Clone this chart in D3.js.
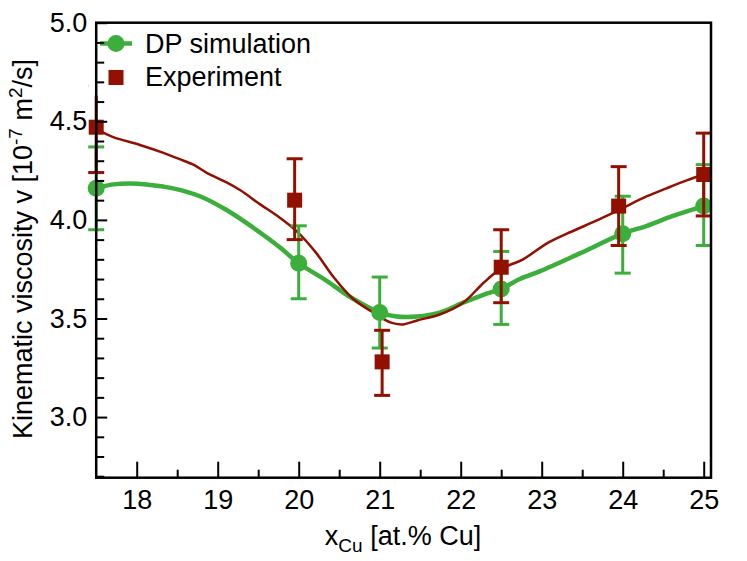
<!DOCTYPE html>
<html>
<head>
<meta charset="utf-8">
<script src="https://cdn.jsdelivr.net/npm/d3@7"></script>
<style>
  body { margin: 0; background: #fff; }
  text { font-family: "Liberation Sans", Arial, sans-serif; fill: #000; }
</style>
</head>
<body>
<div id="chart"></div>
<script>
// DP simulation points (green circles)
const dpX = [17.5, 20, 21, 22.5, 24, 25]
const dpY = [4.16, 3.78, 3.53, 3.65, 3.93, 4.07]
const dpHigh = [4.37, 3.97, 3.71, 3.84, 4.12, 4.28]
const dpLow = [3.95, 3.60, 3.35, 3.47, 3.73, 3.87]

// Experiment points (red squares)
const expX = [17.5, 19.95, 21.03, 22.5, 23.95, 25]
const expY = [4.47, 4.10, 3.28, 3.76, 4.07, 4.23]
const expHigh = [4.68, 4.31, 3.44, 3.95, 4.27, 4.44]
const expLow = [4.24, 3.90, 3.11, 3.58, 3.87, 4.02]

// smooth guide curves
const dpCurveX = [17.5, 17.71, 17.92, 18.12, 18.45, 18.78, 19.11, 19.44, 19.77, 20.0, 20.35, 20.63, 21.0, 21.21, 21.46, 21.74, 22.03, 22.28, 22.5, 22.73, 22.98, 23.47, 24.0, 24.3, 24.62, 25.0]
const dpCurveY = [4.16, 4.18, 4.185, 4.18, 4.16, 4.12, 4.05, 3.96, 3.86, 3.78, 3.69, 3.61, 3.53, 3.51, 3.51, 3.53, 3.58, 3.62, 3.65, 3.70, 3.74, 3.83, 3.93, 3.97, 4.02, 4.07]
const expCurveX = [17.5, 17.71, 18.04, 18.33, 18.58, 18.70, 18.86, 19.11, 19.28, 19.52, 19.77, 19.98, 20.22, 20.43, 20.67, 20.96, 21.13, 21.29, 21.46, 21.74, 22.03, 22.28, 22.49, 22.77, 23.06, 23.31, 23.64, 23.95, 24.30, 24.54, 24.79, 25.0]
const expCurveY = [4.46, 4.42, 4.38, 4.34, 4.30, 4.28, 4.24, 4.19, 4.15, 4.08, 4.01, 3.94, 3.83, 3.71, 3.60, 3.52, 3.48, 3.47, 3.49, 3.52, 3.58, 3.68, 3.75, 3.80, 3.88, 3.93, 3.99, 4.05, 4.12, 4.16, 4.20, 4.23]

const xMajor = [18, 19, 20, 21, 22, 23, 24, 25]
const xMinor = [18.5, 19.5, 20.5, 21.5, 22.5, 23.5, 24.5]
const yMajor = [3.0, 3.5, 4.0, 4.5, 5.0]
const yMinor = [2.7, 2.8, 2.9, 3.1, 3.2, 3.3, 3.4, 3.6, 3.7, 3.8, 3.9, 4.1, 4.2, 4.3, 4.4, 4.6, 4.7, 4.8, 4.9]

const width = 747, height = 561
const pLeft = 96.2, pRight = 711, pTop = 22.7, pBottom = 477.7
const green = '#3cae3c', red = '#921000'
const fs = '27px'

const svg = d3.select('#chart')
  .append('svg')
  .attr('width', width)
  .attr('height', height)

const x = d3.scaleLinear().domain([17.5, 25.09]).range([pLeft, pRight])
const y = d3.scaleLinear().domain([2.69, 5.0]).range([pBottom + 0.5, pTop])

const zip = (a, b) => a.map((v, i) => [v, b[i]])

const line = d3.line()
  .x(d => x(d[0]))
  .y(d => y(d[1]))
  .curve(d3.curveCatmullRom)

// DP curve
svg.append('path')
  .datum(zip(dpCurveX, dpCurveY))
  .attr('d', line)
  .attr('fill', 'none')
  .attr('stroke', green)
  .attr('stroke-width', 4.5)

// experiment curve
svg.append('path')
  .datum(zip(expCurveX, expCurveY))
  .attr('d', line)
  .attr('fill', 'none')
  .attr('stroke', red)
  .attr('stroke-width', 2.5)

function errorBars(xs, lo, hi, color) {
  const g = svg.append('g').attr('stroke', color).attr('stroke-width', 3)
  xs.forEach((xv, i) => {
    g.append('line')
      .attr('x1', x(xv)).attr('x2', x(xv))
      .attr('y1', y(lo[i])).attr('y2', y(hi[i]))
    ;[lo[i], hi[i]].forEach(v => {
      g.append('line')
        .attr('x1', x(xv) - 8).attr('x2', x(xv) + 8)
        .attr('y1', y(v)).attr('y2', y(v))
    })
  })
}

errorBars(dpX, dpLow, dpHigh, green)

svg.append('g')
  .selectAll('circle')
  .data(zip(dpX, dpY))
  .enter()
  .append('circle')
  .attr('cx', d => x(d[0]))
  .attr('cy', d => y(d[1]))
  .attr('r', 8.5)
  .attr('fill', green)

errorBars(expX, expLow, expHigh, red)

svg.append('g')
  .selectAll('rect')
  .data(zip(expX, expY))
  .enter()
  .append('rect')
  .attr('x', d => x(d[0]) - 7.5)
  .attr('y', d => y(d[1]) - 7.5)
  .attr('width', 15)
  .attr('height', 15)
  .attr('fill', red)

// legend (white box covers what is under it)
const legend = svg.append('g')
legend.append('rect')
  .attr('x', pLeft - 8).attr('y', pTop + 1)
  .attr('width', 230).attr('height', 72)
  .attr('fill', '#fff')
legend.append('line')
  .attr('x1', 100).attr('x2', 132)
  .attr('y1', 43.5).attr('y2', 43.5)
  .attr('stroke', green).attr('stroke-width', 4.5)
legend.append('circle')
  .attr('cx', 116).attr('cy', 43.5).attr('r', 8.5)
  .attr('fill', green)
legend.append('rect')
  .attr('x', 108.5).attr('y', 70)
  .attr('width', 15).attr('height', 15)
  .attr('fill', red)
legend.append('text')
  .attr('x', 145).attr('y', 53)
  .style('font-size', fs)
  .text('DP simulation')
legend.append('text')
  .attr('x', 145).attr('y', 86)
  .style('font-size', fs)
  .text('Experiment')

// axes
const xAxis = svg.append('g')
  .attr('transform', `translate(0,${pBottom})`)
  .call(d3.axisBottom(x).tickValues(xMajor).tickSize(-16).tickSizeOuter(0).tickPadding(12).tickFormat(d3.format('d')))
xAxis.select('.domain').remove()
xAxis.selectAll('line').attr('stroke-width', 2)
xAxis.selectAll('text').style('font-size', fs).style('font-family', '"Liberation Sans", Arial, sans-serif')

const xMinorAxis = svg.append('g')
  .attr('transform', `translate(0,${pBottom})`)
  .call(d3.axisBottom(x).tickValues(xMinor).tickSize(-8).tickSizeOuter(0).tickFormat(''))
xMinorAxis.select('.domain').remove()
xMinorAxis.selectAll('line').attr('stroke-width', 2)

const yAxis = svg.append('g')
  .attr('transform', `translate(${pLeft},0)`)
  .call(d3.axisLeft(y).tickValues(yMajor).tickSize(-11).tickSizeOuter(0).tickPadding(9).tickFormat(d3.format('.1f')))
yAxis.select('.domain').remove()
yAxis.selectAll('line').attr('stroke-width', 2)
yAxis.selectAll('text').style('font-size', fs).style('font-family', '"Liberation Sans", Arial, sans-serif')

const yMinorAxis = svg.append('g')
  .attr('transform', `translate(${pLeft},0)`)
  .call(d3.axisLeft(y).tickValues(yMinor).tickSize(-8).tickSizeOuter(0).tickFormat(''))
yMinorAxis.select('.domain').remove()
yMinorAxis.selectAll('line').attr('stroke-width', 2)

// frame
svg.append('rect')
  .attr('x', pLeft).attr('y', pTop)
  .attr('width', pRight - pLeft).attr('height', pBottom - pTop)
  .attr('fill', 'none')
  .attr('stroke', '#000')
  .attr('stroke-width', 2.5)

// axis titles
const xt = svg.append('text')
  .attr('x', 403).attr('y', 545)
  .attr('text-anchor', 'middle')
  .style('font-size', fs)
xt.append('tspan').text('x')
xt.append('tspan').attr('dy', 7).style('font-size', '19px').text('Cu')
xt.append('tspan').attr('dy', -7).text(' [at.% Cu]')

const yt = svg.append('text')
  .attr('transform', 'translate(32,249) rotate(-90)')
  .attr('text-anchor', 'middle')
  .style('font-size', fs)
yt.append('tspan').text('Kinematic viscosity v [10')
yt.append('tspan').attr('dy', -10).style('font-size', '19px').text('-7')
yt.append('tspan').attr('dy', 10).text(' m')
yt.append('tspan').attr('dy', -10).style('font-size', '19px').text('2')
yt.append('tspan').attr('dy', 10).text('/s]')
</script>
</body>
</html>
